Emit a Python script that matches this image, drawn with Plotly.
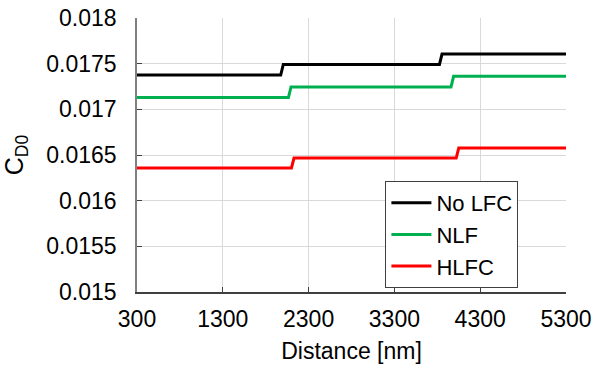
import plotly.graph_objects as go

# Data (step profiles)
x_nolfc = [300, 1975, 2005, 3825, 3855, 5300]
y_nolfc = [0.017376, 0.017376, 0.017492, 0.017492, 0.017605, 0.017605]

x_nlf = [300, 2065, 2095, 3960, 3990, 5300]
y_nlf = [0.017129, 0.017129, 0.017245, 0.017245, 0.017361, 0.017361]

x_hlfc = [300, 2100, 2130, 4020, 4050, 5300]
y_hlfc = [0.016358, 0.016358, 0.016467, 0.016467, 0.016576, 0.016576]

x_ticks = [300, 1300, 2300, 3300, 4300, 5300]
y_ticks = [0.015, 0.0155, 0.016, 0.0165, 0.017, 0.0175, 0.018]
y_ticklabels = ["0.015", "0.0155", "0.016", "0.0165", "0.017", "0.0175", "0.018"]

FONT = "Liberation Sans, Arial, sans-serif"

fig = go.Figure()
for name, xs, ys, col in [
    ("No LFC", x_nolfc, y_nolfc, "#000000"),
    ("NLF", x_nlf, y_nlf, "#00b050"),
    ("HLFC", x_hlfc, y_hlfc, "#ff0000"),
]:
    fig.add_trace(go.Scatter(x=xs, y=ys, mode="lines", name=name,
                             line=dict(color=col, width=3)))

fig.update_layout(
    width=594, height=367,
    margin=dict(l=137, r=28, t=18, b=75),
    paper_bgcolor="white", plot_bgcolor="white",
    font=dict(family=FONT, size=23, color="#000000"),
    showlegend=True,
    legend=dict(
        x=0.579, y=0.405, xanchor="left", yanchor="top",
        bgcolor="white", bordercolor="#404040", borderwidth=1,
        font=dict(family=FONT, size=22, color="#000000"),
        tracegroupgap=0, itemwidth=40,
    ),
    xaxis=dict(
        range=[300, 5300], tickmode="array", tickvals=x_ticks,
        ticktext=[str(v) for v in x_ticks],
        showgrid=True, gridcolor="#d9d9d9", gridwidth=1,
        showline=True, linecolor="#404040", linewidth=1.5,
        ticks="inside", ticklen=5, tickcolor="#404040",
        ticklabelstandoff=6, automargin=False,
        zeroline=False,
        title=dict(text="Distance [nm]", font=dict(family=FONT, size=23), standoff=12),
        tickfont=dict(family=FONT, size=23, color="#000000"),
    ),
    yaxis=dict(
        range=[0.015, 0.018], tickmode="array", tickvals=y_ticks,
        ticktext=y_ticklabels,
        showgrid=True, gridcolor="#d9d9d9", gridwidth=1,
        showline=True, linecolor="#808080", linewidth=1.5,
        ticks="inside", ticklen=5, tickcolor="#404040",
        ticklabelstandoff=14, automargin=False,
        zeroline=False,
        title=dict(text="C<sub>D0</sub>", font=dict(family=FONT, size=25), standoff=16),
        tickfont=dict(family=FONT, size=23, color="#000000"),
    ),
)

fig.write_html("out.html", config={"displayModeBar": False},
               post_script="document.body.style.margin='0';document.body.style.padding='0';")
